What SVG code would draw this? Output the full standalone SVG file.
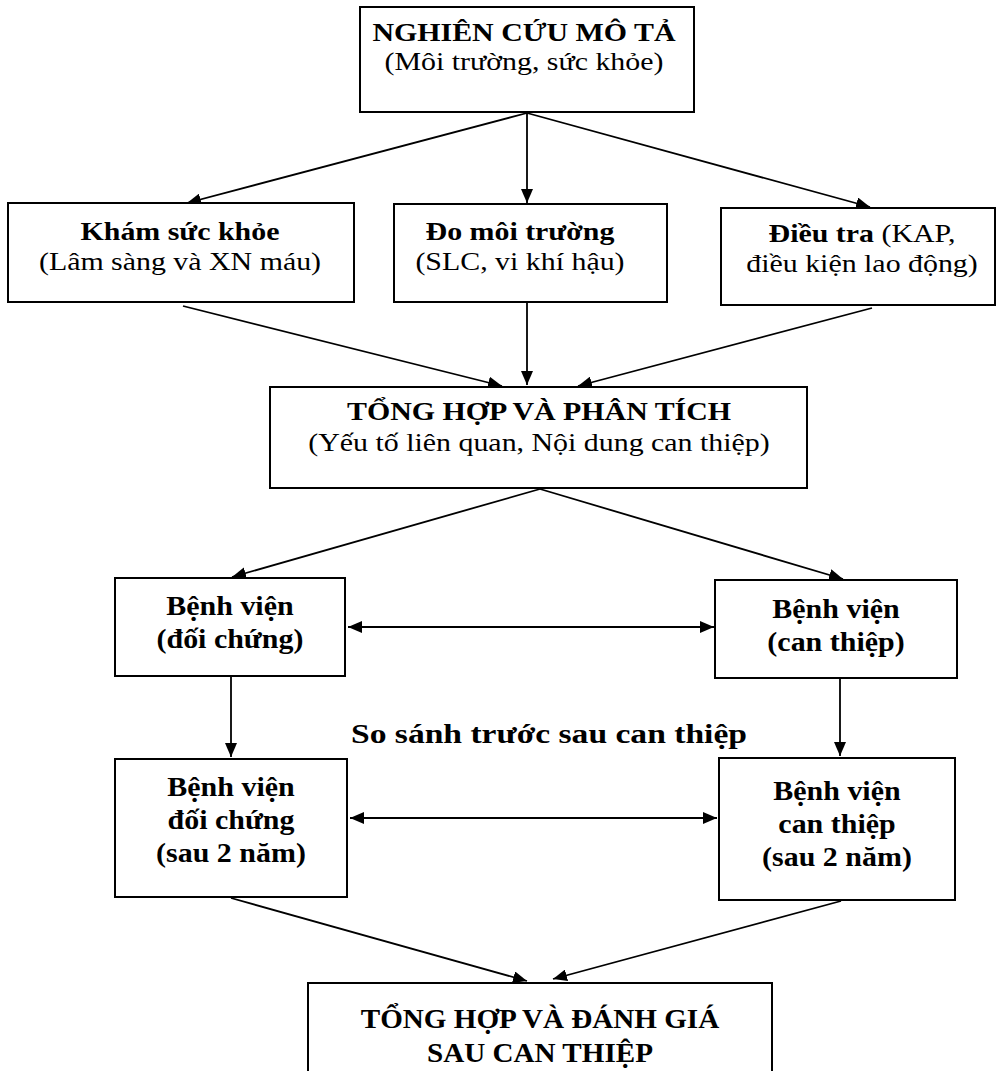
<svg xmlns="http://www.w3.org/2000/svg" width="1001" height="1071" viewBox="0 0 1001 1071">
<defs>
<marker id="ah" viewBox="0 0 14 12" refX="14" refY="6" markerWidth="14" markerHeight="12" markerUnits="userSpaceOnUse" orient="auto-start-reverse">
<path d="M0,0 L14,6 L0,12 z" fill="#000"/>
</marker>
<style>
rect.box{fill:#fff;stroke:#000;stroke-width:2}
text{font-family:"Liberation Serif","Times New Roman",serif;font-size:26px;fill:#000;text-anchor:middle}
.b{font-weight:bold}
.h{font-size:28px;font-weight:bold}
.line{stroke:#000;stroke-width:1.8;fill:none}
</style>
</defs>
<rect width="1001" height="1071" fill="#fff"/>
<g id="connectors">
<line class="line" x1="527" y1="113" x2="187" y2="203" marker-end="url(#ah)"/>
<line class="line" x1="527" y1="113" x2="527" y2="203" marker-end="url(#ah)"/>
<line class="line" x1="527" y1="113" x2="870" y2="207" marker-end="url(#ah)"/>
<line class="line" x1="183" y1="306" x2="502" y2="386" marker-end="url(#ah)"/>
<line class="line" x1="527" y1="302" x2="527" y2="385" marker-end="url(#ah)"/>
<line class="line" x1="872" y1="308" x2="578" y2="386" marker-end="url(#ah)"/>
<line class="line" x1="540" y1="489" x2="232" y2="577" marker-end="url(#ah)"/>
<line class="line" x1="540" y1="489" x2="843" y2="579" marker-end="url(#ah)"/>
<line class="line" x1="348" y1="627" x2="714" y2="627" marker-start="url(#ah)" marker-end="url(#ah)"/>
<line class="line" x1="231" y1="677" x2="231" y2="757" marker-end="url(#ah)"/>
<line class="line" x1="840" y1="679" x2="840" y2="756" marker-end="url(#ah)"/>
<line class="line" x1="350" y1="818" x2="717" y2="818" marker-start="url(#ah)" marker-end="url(#ah)"/>
<line class="line" x1="231" y1="898" x2="527" y2="981" marker-end="url(#ah)"/>
<line class="line" x1="841" y1="901" x2="553" y2="979" marker-end="url(#ah)"/>
</g>
<g id="n-mota">
<rect class="box" x="360" y="7" width="334" height="105"/>
<g transform="translate(524 0) scale(1.15 1) translate(-524 0)">
<text class="b" x="524" y="41">NGHIÊN CỨU MÔ TẢ</text>
<text x="524" y="70">(Môi trường, sức khỏe)</text>
</g>
</g>
<g id="n-kham">
<rect class="box" x="8" y="203" width="346" height="99"/>
<g transform="translate(180 0) scale(1.15 1) translate(-180 0)">
<text class="b" x="180" y="240">Khám sức khỏe</text>
<text x="180" y="270">(Lâm sàng và XN máu)</text>
</g>
</g>
<g id="n-do">
<rect class="box" x="394" y="204" width="273" height="98"/>
<g transform="translate(520 0) scale(1.15 1) translate(-520 0)">
<text class="b" x="520" y="240">Đo môi trường</text>
<text x="520" y="270">(SLC, vi khí hậu)</text>
</g>
</g>
<g id="n-dieutra">
<rect class="box" x="721" y="208" width="274" height="97"/>
<g transform="translate(862 0) scale(1.15 1) translate(-862 0)">
<text x="862" y="242"><tspan class="b">Điều tra</tspan> (KAP,</text>
<text x="862" y="272">điều kiện lao động)</text>
</g>
</g>
<g id="n-tonghop">
<rect class="box" x="270" y="387" width="537" height="101"/>
<g transform="translate(539 0) scale(1.15 1) translate(-539 0)">
<text class="b" x="539" y="420">TỔNG HỢP VÀ PHÂN TÍCH</text>
<text x="539" y="451">(Yếu tố liên quan, Nội dung can thiệp)</text>
</g>
</g>
<g id="n-bv-dc">
<rect class="box" x="115" y="578" width="230" height="98"/>
<g transform="translate(230 0) scale(1.07 1) translate(-230 0)">
<text class="h" x="230" y="615">Bệnh viện</text>
<text class="h" x="230" y="648">(đối chứng)</text>
</g>
</g>
<g id="n-bv-ct">
<rect class="box" x="715" y="580" width="242" height="98"/>
<g transform="translate(836 0) scale(1.07 1) translate(-836 0)">
<text class="h" x="836" y="618">Bệnh viện</text>
<text class="h" x="836" y="651">(can thiệp)</text>
</g>
</g>
<g id="label-sosanh">
<text class="b" x="549" y="743" style="font-size:28px" transform="translate(549 0) scale(1.2 1) translate(-549 0)">So sánh trước sau can thiệp</text>
</g>
<g id="n-bv-dc2">
<rect class="box" x="115" y="759" width="232" height="138"/>
<g transform="translate(231 0) scale(1.07 1) translate(-231 0)">
<text class="h" x="231" y="796">Bệnh viện</text>
<text class="h" x="231" y="829">đối chứng</text>
<text class="h" x="231" y="862">(sau 2 năm)</text>
</g>
</g>
<g id="n-bv-ct2">
<rect class="box" x="719" y="758" width="236" height="142"/>
<g transform="translate(837 0) scale(1.07 1) translate(-837 0)">
<text class="h" x="837" y="800">Bệnh viện</text>
<text class="h" x="837" y="833">can thiệp</text>
<text class="h" x="837" y="866">(sau 2 năm)</text>
</g>
</g>
<g id="n-danhgia">
<rect class="box" x="308" y="983" width="464" height="100"/>
<g transform="translate(540 0) scale(1.04 1) translate(-540 0)">
<text class="h" x="540" y="1028">TỔNG HỢP VÀ ĐÁNH GIÁ</text>
<text class="h" x="540" y="1062">SAU CAN THIỆP</text>
</g>
</g>
</svg>
